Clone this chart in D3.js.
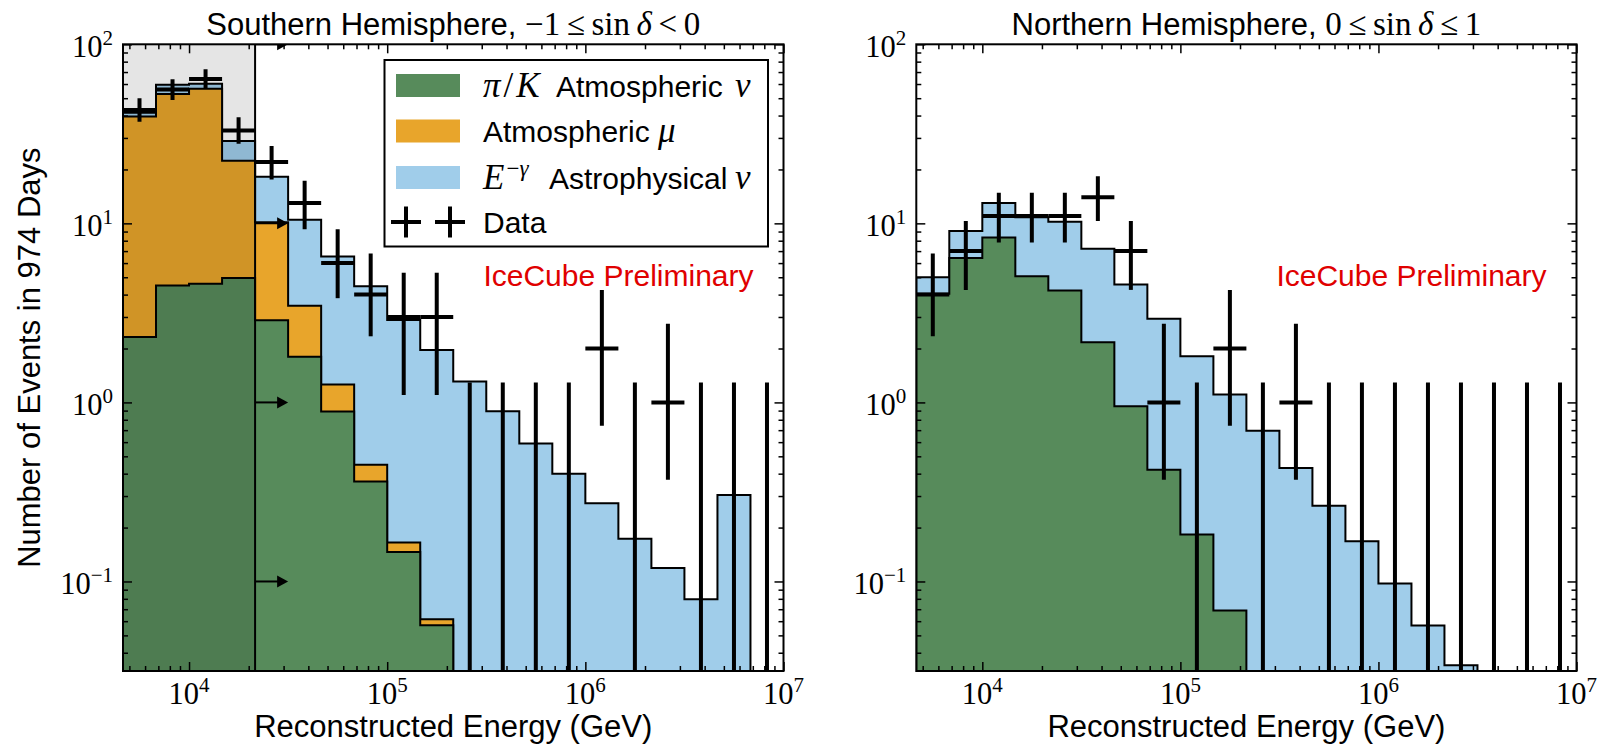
<!DOCTYPE html>
<html><head><meta charset="utf-8">
<script src="https://cdn.jsdelivr.net/npm/d3@7"></script>
<style>body{margin:0;background:#fff}svg{display:block}</style>
</head><body>
<svg id="c" width="1602" height="747"></svg>
<script>
// ---------- data ----------
// bin edges, log10(E/GeV)
const binEdgeExp = [3.6667,3.8333,4.0,4.1667,4.3333,4.5,4.6667,4.8333,5.0,5.1667,5.3333,5.5,5.6667,5.8333,6.0,6.1667,6.3333,6.5,6.6667,6.8333,7.0];
const xTickExp = [4,5,6,7];
const yTickExp = [-1,0,1,2];

// Southern hemisphere
const southAtmNu = [2.32,4.5,4.6,4.95,2.88,1.8,0.89,0.362,0.146,0.057,0,0,0,0,0,0,0,0,0,0];
const southAtmMu = [37.2,48.3,51.9,17.4,7.25,1.67,0.37,0.087,0.019,0.0045,0,0,0,0,0,0,0,0,0,0];
const southAstro = [2.0,6.7,3.8,6.5,8.1,7.0,5.28,4.0,2.72,1.9,1.31,0.893,0.59,0.40,0.273,0.173,0.119,0.0796,0.304,0];
const southData  = [43,56,64,33,22,13,6,4,3,3,0,0,0,0,2,0,1,0,0,0];
const southErrLo = [36.9,48.9,56.6,27.8,17.6,9.28,3.82,2.34,1.10,1.10,0,0,0,0,0.74,0,0.37,0,0,0];
const southErrHi = [50.0,63.9,72.5,39.2,27.0,17.3,9.28,6.78,5.30,5.30,1.29,1.29,1.29,1.29,4.25,1.29,2.75,1.29,1.29,1.29];

// Northern hemisphere
const northAtmNu = [4.05,6.4,8.34,5.06,4.22,2.17,0.953,0.42,0.183,0.0688,0,0,0,0,0,0,0,0,0,0];
const northAtmMu = [0,0,0,0,0,0,0,0,0,0,0,0,0,0,0,0,0,0,0,0];
const northAstro = [0.95,2.66,4.66,5.74,5.98,5.05,3.6,2.51,1.63,1.04,0.694,0.43,0.265,0.168,0.0973,0.0568,0.0341,0,0,0];
const northData  = [4,7,11,11,11,14,7,1,0,2,0,1,0,0,0,0,0,0,0,0];
const northErrLo = [2.34,4.25,7.81,7.81,7.81,10.3,4.25,0.37,0,0.74,0,0.37,0,0,0,0,0,0,0,0];
const northErrHi = [6.78,10.3,14.82,14.82,14.82,18.32,10.3,2.75,1.29,4.25,1.29,2.75,1.29,1.29,1.29,1.29,1.29,1.29,1.29,1.29];

const shadeEndExp = 4.3333;   // threshold region in southern sky
const arrowEndExp = 4.5;

// ---------- style ----------
const colNu = "#578b5b", colMu = "#e8a52b", colAstro = "#a0cdea", colRed = "#e00000";
const SANS = "'Liberation Sans', Arial, Helvetica, sans-serif";
const SERIF = "'Liberation Serif', 'Times New Roman', serif";
const FS = 31;
const MFS = 33;
const LFS = 30;

const svg = d3.select("#c");
const yTop = 44.3, yBot = 671;
const floorV = 1e-3;

const y = d3.scaleLog().domain([Math.pow(10,-1.5), 100]).range([yBot, yTop]);

const panels = [
  {id:"s", x0:123, x1:783.5, nu:southAtmNu, mu:southAtmMu, astro:southAstro, data:southData, lo:southErrLo, hi:southErrHi,
   shaded:true, legend:true, ylabel:true,
   title:[["Southern Hemisphere, ",SANS,"normal"],["\u22121\u2009\u2264\u2009sin\u2009",SERIF,"normal"],["\u03b4",SERIF,"italic"],["\u2009<\u20090",SERIF,"normal"]]},
  {id:"n", x0:916.3, x1:1576.5, nu:northAtmNu, mu:northAtmMu, astro:northAstro, data:northData, lo:northErrLo, hi:northErrHi,
   shaded:false, legend:false, ylabel:false,
   title:[["Northern Hemisphere, ",SANS,"normal"],["0\u2009\u2264\u2009sin\u2009",SERIF,"normal"],["\u03b4",SERIF,"italic"],["\u2009\u2264\u20091",SERIF,"normal"]]}
];

const defs = svg.append("defs");

panels.forEach(p => {
  const x = d3.scaleLog().domain([Math.pow(10,binEdgeExp[0]), Math.pow(10,binEdgeExp[binEdgeExp.length-1])]).range([p.x0, p.x1]);
  const edges = binEdgeExp.map(e => Math.pow(10,e));
  const nb = edges.length - 1;

  defs.append("clipPath").attr("id","clip"+p.id)
    .append("rect").attr("x",p.x0).attr("y",yTop).attr("width",p.x1-p.x0).attr("height",yBot-yTop);

  const g = svg.append("g");
  const plot = g.append("g").attr("clip-path","url(#clip"+p.id+")");

  // stacked histograms
  const rows = d3.range(nb).map(i => ({nu:p.nu[i], mu:p.mu[i], astro:p.astro[i]}));
  const stacked = d3.stack().keys(["nu","mu","astro"])(rows);
  const colors = {nu:colNu, mu:colMu, astro:colAstro};
  const area = d3.area()
    .x(d => x(d.e))
    .y0(y(floorV))
    .y1(d => y(Math.max(d.v, floorV)));
  [2,1,0].forEach(li => {
    const layer = stacked[li];
    const key = layer.key;
    if (d3.max(p[key]) <= 0) return;
    const pts = [];
    layer.forEach((d,i) => { pts.push({e:edges[i], v:d[1]}); pts.push({e:edges[i+1], v:d[1]}); });
    plot.append("path").attr("d", area(pts))
      .attr("fill", colors[key]).attr("stroke","#000").attr("stroke-width",2)
      .attr("stroke-linejoin","miter");
  });

  if (p.shaded) {
    const xs = x(Math.pow(10,shadeEndExp));
    plot.append("rect").attr("x",p.x0).attr("y",yTop).attr("width",xs-p.x0).attr("height",yBot-yTop)
      .attr("fill","#000").attr("fill-opacity",0.1);
    plot.append("line").attr("x1",xs).attr("x2",xs).attr("y1",yTop).attr("y2",yBot)
      .attr("stroke","#000").attr("stroke-width",2);
    const xa = x(Math.pow(10,arrowEndExp));
    yTickExp.forEach(k => {
      const yy = y(Math.pow(10,k));
      plot.append("line").attr("x1",xs).attr("x2",xa-9).attr("y1",yy).attr("y2",yy)
        .attr("stroke","#000").attr("stroke-width",2);
      plot.append("path").attr("d",`M${xa-11},${yy-6}L${xa},${yy}L${xa-11},${yy+6}Z`).attr("fill","#000");
    });
  }

  // data points
  d3.range(nb).forEach(i => {
    const cx = x(Math.sqrt(edges[i]*edges[i+1]));
    plot.append("line").attr("x1",cx).attr("x2",cx)
      .attr("y1", y(Math.max(p.lo[i], floorV))).attr("y2", y(p.hi[i]))
      .attr("stroke","#000").attr("stroke-width",4);
    if (p.data[i] > 0) {
      plot.append("line").attr("x1",x(edges[i])).attr("x2",x(edges[i+1]))
        .attr("y1",y(p.data[i])).attr("y2",y(p.data[i]))
        .attr("stroke","#000").attr("stroke-width",4);
    }
  });

  // ticks (inward) via d3 axes
  const minorX = [];
  for (let k = 3; k <= 6; k++) for (let m = 2; m <= 9; m++) {
    const v = m*Math.pow(10,k);
    if (v > x.domain()[0] && v < x.domain()[1]) minorX.push(v);
  }
  const minorY = [];
  for (let k = -2; k <= 1; k++) for (let m = 2; m <= 9; m++) {
    const v = m*Math.pow(10,k);
    if (v > y.domain()[0] && v < y.domain()[1]) minorY.push(v);
  }
  const majX = xTickExp.map(k => Math.pow(10,k));
  const majY = yTickExp.map(k => Math.pow(10,k));

  const styleAxis = sel => { sel.select(".domain").remove(); sel.selectAll("line").attr("stroke","#000").attr("stroke-width",1.5); sel.selectAll("text").remove(); };

  g.append("g").attr("transform",`translate(0,${yBot})`).call(d3.axisBottom(x).tickValues(majX).tickSize(-9).tickFormat("")).call(styleAxis);
  g.append("g").attr("transform",`translate(0,${yBot})`).call(d3.axisBottom(x).tickValues(minorX).tickSize(-5).tickFormat("")).call(styleAxis);
  g.append("g").attr("transform",`translate(0,${yTop})`).call(d3.axisTop(x).tickValues(majX).tickSize(-9).tickFormat("")).call(styleAxis);
  g.append("g").attr("transform",`translate(0,${yTop})`).call(d3.axisTop(x).tickValues(minorX).tickSize(-5).tickFormat("")).call(styleAxis);
  g.append("g").attr("transform",`translate(${p.x0},0)`).call(d3.axisLeft(y).tickValues(majY).tickSize(-9).tickFormat("")).call(styleAxis);
  g.append("g").attr("transform",`translate(${p.x0},0)`).call(d3.axisLeft(y).tickValues(minorY).tickSize(-5).tickFormat("")).call(styleAxis);
  g.append("g").attr("transform",`translate(${p.x1},0)`).call(d3.axisRight(y).tickValues(majY).tickSize(-9).tickFormat("")).call(styleAxis);
  g.append("g").attr("transform",`translate(${p.x1},0)`).call(d3.axisRight(y).tickValues(minorY).tickSize(-5).tickFormat("")).call(styleAxis);

  // frame
  g.append("rect").attr("x",p.x0).attr("y",yTop).attr("width",p.x1-p.x0).attr("height",yBot-yTop)
    .attr("fill","none").attr("stroke","#000").attr("stroke-width",2);

  // tick labels (10^k)
  const pow = (sel, k) => {
    sel.append("tspan").text("10");
    sel.append("tspan").attr("font-size",21).attr("dy",-12).text(k < 0 ? "\u2212" + (-k) : String(k));
  };
  xTickExp.forEach(k => {
    const t = g.append("text").attr("x", x(Math.pow(10,k))).attr("y", 704)
      .attr("text-anchor","middle").attr("font-family",SERIF).attr("font-size",30.5);
    pow(t,k);
  });
  yTickExp.forEach(k => {
    const t = g.append("text").attr("x", p.x0-10).attr("y", y(Math.pow(10,k))+13)
      .attr("text-anchor","end").attr("font-family",SERIF).attr("font-size",30.5);
    pow(t,k);
  });

  // axis label
  g.append("text").attr("x",(p.x0+p.x1)/2).attr("y",737).attr("text-anchor","middle")
    .attr("font-family",SANS).attr("font-size",FS).text("Reconstructed Energy (GeV)");

  // title
  const tt = g.append("text").attr("x",(p.x0+p.x1)/2).attr("y",34.5).attr("text-anchor","middle").attr("font-size",FS);
  p.title.forEach(([s,f,st]) => tt.append("tspan").attr("font-family",f).attr("font-style",st)
      .attr("font-size", f===SERIF ? MFS : FS).text(s));

  // preliminary
  g.append("text").attr("x",p.x1-30).attr("y",286).attr("text-anchor","end")
    .attr("font-family",SANS).attr("font-size",30).attr("fill",colRed).text("IceCube Preliminary");

  if (p.ylabel) {
    g.append("text").attr("transform",`translate(39.5,${(yTop+yBot)/2}) rotate(-90)`)
      .attr("text-anchor","middle").attr("font-family",SANS).attr("font-size",FS)
      .text("Number of Events in 974 Days");
  }

  if (p.legend) {
    const lg = g.append("g");
    lg.append("rect").attr("x",384.5).attr("y",60).attr("width",383.5).attr("height",186.5)
      .attr("fill","#fff").attr("stroke","#000").attr("stroke-width",2);
    // [text, font, style, x position]
    const entries = [
      {c:colNu, yc:85.5, parts:[["\u03c0",SERIF,"italic",483],["/",SERIF,"normal",null],["K",SERIF,"italic",null],["Atmospheric",SANS,"normal",556],["\u03bd",SERIF,"italic",735]]},
      {c:colMu, yc:131, parts:[["Atmospheric",SANS,"normal",483],["\u03bc",SERIF,"italic",658]]},
      {c:colAstro, yc:177.5, parts:[["E",SERIF,"italic",483],["sup",null,null,null],["Astrophysical",SANS,"normal",549],["\u03bd",SERIF,"italic",735]]},
      {c:null, yc:222, parts:[["Data",SANS,"normal",483]]}
    ];
    entries.forEach(en => {
      if (en.c) {
        lg.append("rect").attr("x",396).attr("y",en.yc-11.5).attr("width",64).attr("height",23).attr("fill",en.c);
      } else {
        [406,450].forEach(cx => {
          lg.append("line").attr("x1",cx-15).attr("x2",cx+15).attr("y1",en.yc).attr("y2",en.yc).attr("stroke","#000").attr("stroke-width",4);
          lg.append("line").attr("x1",cx).attr("x2",cx).attr("y1",en.yc-15.5).attr("y2",en.yc+15.5).attr("stroke","#000").attr("stroke-width",4);
        });
      }
      const by = en.yc + 11;
      const t = lg.append("text").attr("x",483).attr("y",by).attr("font-size",LFS);
      en.parts.forEach(([s,f,st,px]) => {
        if (s === "sup") {
          t.append("tspan").attr("font-family",SERIF).attr("font-size",23).attr("dx",2).attr("y",by-13).text("\u2212");
          t.append("tspan").attr("font-family",SERIF).attr("font-style","italic").attr("font-size",23).text("\u03b3");
        } else {
          const ts = t.append("tspan").attr("font-family",f).attr("font-style",st)
            .attr("font-size", f===SERIF ? 35 : LFS).attr("y",by).text(s);
          if (px !== null) ts.attr("x",px);
          else ts.attr("dx",3);
        }
      });
    });
  }
});
</script>
</body></html>
